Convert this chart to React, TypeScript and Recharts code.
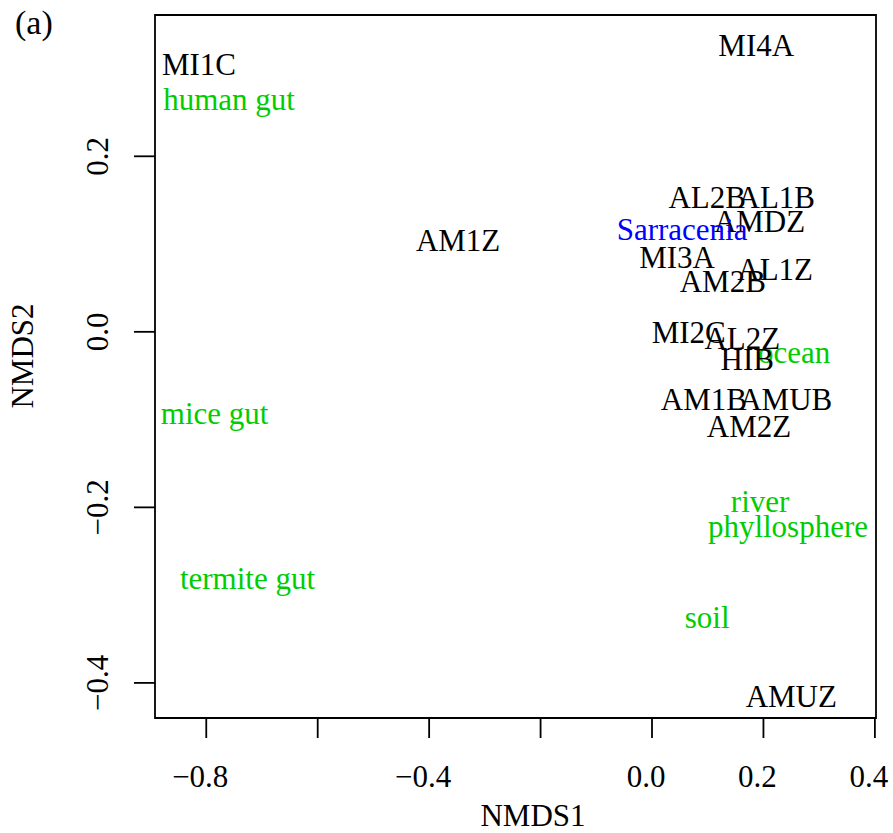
import React from "react";
import { ScatterChart, Scatter, XAxis, YAxis, ReferenceArea } from "recharts";

const sampleNames = ["MI1C", "MI4A", "AL2B", "AL1B", "AMDZ", "AM1Z", "MI3A", "AL1Z", "AM2B", "MI2C", "AL2Z", "HIB", "AM1B", "AMUB", "AM2Z", "AMUZ"];
const sampleX = [-0.813, 0.187, 0.099, 0.223, 0.193, -0.348, 0.045, 0.221, 0.127, 0.066, 0.162, 0.171, 0.093, 0.24, 0.174, 0.25];
const sampleY = [0.304, 0.326, 0.152, 0.152, 0.125, 0.103, 0.084, 0.071, 0.057, -0.001, -0.008, -0.032, -0.078, -0.078, -0.109, -0.416];

const envNames = ["human gut", "mice gut", "termite gut", "ocean", "river", "phyllosphere", "soil"];
const envX = [-0.759, -0.785, -0.726, 0.255, 0.194, 0.244, 0.099];
const envY = [0.264, -0.094, -0.282, -0.024, -0.194, -0.222, -0.326];

const hostNames = ["Sarracenia"];
const hostX = [0.054];
const hostY = [0.116];

const xTicks = [-0.8, -0.6, -0.4, -0.2, 0, 0.2, 0.4];
const xLabelTicks = [-0.8, -0.4, 0, 0.2, 0.4];
const yTicks = [-0.4, -0.2, 0, 0.2];
const xDomain = [-0.892, 0.402];
const yDomain = [-0.44, 0.361];

const FONT = "'Liberation Serif', 'Times New Roman', serif";
const FS = 31;

const build = (names: string[], xs: number[], ys: number[]) =>
  names.map((name, i) => ({ name, x: xs[i], y: ys[i] }));

const samples = build(sampleNames, sampleX, sampleY);
const envs = build(envNames, envX, envY);
const hosts = build(hostNames, hostX, hostY);

const fmt = (v: number) => {
  const s = v.toFixed(1);
  return s.startsWith("-") ? "\u2212" + s.slice(1) : s;
};

const labelShape = (color: string) => (props: any) => (
  <text
    x={props.cx}
    y={props.cy}
    dy={10}
    textAnchor="middle"
    fill={color}
    fontFamily={FONT}
    fontSize={FS}
  >
    {props.payload.name}
  </text>
);

const XTick = (props: any) => {
  const { x, y, payload } = props;
  const show = xLabelTicks.some((t) => Math.abs(t - payload.value) < 1e-9);
  if (!show) return <g />;
  return (
    <text x={x} y={y} dx={-6} dy={49} textAnchor="middle" fill="#000" fontFamily={FONT} fontSize={FS}>
      {fmt(payload.value)}
    </text>
  );
};

const YTick = (props: any) => {
  const { x, y, payload } = props;
  const bx = x - 26;
  return (
    <text
      x={bx}
      y={y}
      transform={`rotate(-90, ${bx}, ${y})`}
      textAnchor="middle"
      fill="#000"
      fontFamily={FONT}
      fontSize={FS}
    >
      {fmt(payload.value)}
    </text>
  );
};

export default function App() {
  return (
    <div style={{ position: "absolute", left: 0, top: 0, width: 893, height: 833, background: "#fff" }}>
      <ScatterChart width={893} height={833} margin={{ top: 15, right: 17, bottom: 0, left: 0 }}>
        <XAxis
          type="number"
          dataKey="x"
          domain={xDomain}
          ticks={xTicks}
          allowDataOverflow
          height={115}
          axisLine={false}
          tickSize={20}
          tickMargin={0}
          tickLine={{ stroke: "#000", strokeWidth: 1.8 }}
          tick={<XTick />}
          interval={0}
        />
        <YAxis
          type="number"
          dataKey="y"
          domain={yDomain}
          ticks={yTicks}
          allowDataOverflow
          width={155}
          axisLine={false}
          tickSize={21}
          tickMargin={0}
          tickLine={{ stroke: "#000", strokeWidth: 1.8 }}
          tick={<YTick />}
          interval={0}
        />
        <ReferenceArea
          x1={xDomain[0]}
          x2={xDomain[1]}
          y1={yDomain[0]}
          y2={yDomain[1]}
          fill="none"
          fillOpacity={0}
          stroke="#000"
          strokeWidth={1.8}
          ifOverflow="visible"
        />
        <Scatter data={envs} shape={labelShape("#00CD00")} isAnimationActive={false} />
        <Scatter data={samples} shape={labelShape("#000000")} isAnimationActive={false} />
        <Scatter data={hosts} shape={labelShape("#0000FF")} isAnimationActive={false} />
      </ScatterChart>
      <svg
        width={893}
        height={833}
        style={{ position: "absolute", left: 0, top: 0, pointerEvents: "none" }}
      >
        <text x={15} y={34} fontFamily={FONT} fontSize={34} fill="#000">(a)</text>
        <text x={533} y={826} textAnchor="middle" fontFamily={FONT} fontSize={FS} fill="#000">NMDS1</text>
        <text
          x={33}
          y={356}
          transform="rotate(-90, 33, 356)"
          textAnchor="middle"
          fontFamily={FONT}
          fontSize={FS}
          fill="#000"
        >
          NMDS2
        </text>
      </svg>
    </div>
  );
}
